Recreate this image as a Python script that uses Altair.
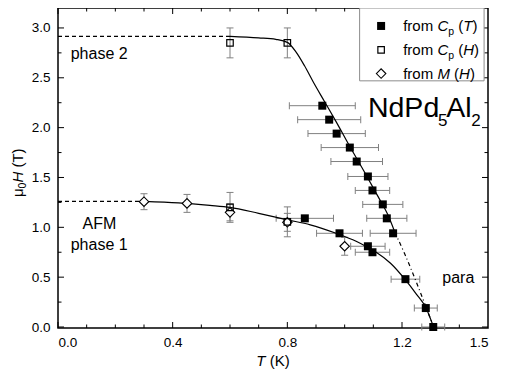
import altair as alt
import pandas as pd

FONT = "Liberation Sans"
GRAY = "#808080"

# ---------------- data ----------------
# from Cp(T): filled squares with horizontal error bars
cpT_T = [0.922, 0.946, 0.972, 1.018, 1.042, 1.081, 1.097, 1.133, 1.147, 1.169,
         0.861, 0.982, 1.081, 1.097, 1.212, 1.283, 1.309]
cpT_H = [2.22, 2.08, 1.94, 1.80, 1.66, 1.51, 1.37, 1.23, 1.09, 0.94,
         1.09, 0.94, 0.81, 0.75, 0.48, 0.19, 0.0]
cpT_dT = [0.115, 0.11, 0.10, 0.10, 0.09, 0.07, 0.06, 0.07, 0.07, 0.08,
          0.10, 0.08, 0.06, 0.06, 0.05, 0.04, 0.04]

# from Cp(H): open squares with vertical error bars
cpH_T = [0.60, 0.80, 0.60, 0.80]
cpH_H = [2.85, 2.85, 1.20, 1.055]
cpH_dH = [0.15, 0.15, 0.15, 0.15]

# from M(H): open diamonds with vertical error bars
M_T = [0.30, 0.45, 0.60, 0.80, 1.00]
M_H = [1.257, 1.24, 1.15, 1.05, 0.81]
M_dH = [0.08, 0.09, 0.085, 0.09, 0.09]

# phase boundaries
b2_T = [0.60, 0.70, 0.76, 0.80, 0.83, 0.86, 0.89, 0.93, 0.97, 1.02, 1.07, 1.12, 1.15, 1.175]
b2_H = [2.915, 2.90, 2.885, 2.855, 2.76, 2.62, 2.46, 2.26, 2.06, 1.80, 1.55, 1.29, 1.13, 0.95]
b2x_T = [1.175, 1.21, 1.25, 1.31]
b2x_H = [0.95, 0.73, 0.45, 0.0]
b2d_T = [0.0, 0.60]
b2d_H = [2.915, 2.915]
b1_T = [0.30, 0.42, 0.53, 0.60, 0.70, 0.80, 0.88, 0.97, 1.04, 1.08, 1.11, 1.16, 1.21, 1.25, 1.283, 1.31]
b1_H = [1.26, 1.245, 1.22, 1.20, 1.14, 1.075, 1.025, 0.94, 0.86, 0.80, 0.75, 0.64, 0.48, 0.33, 0.195, 0.0]
b1d_T = [0.0, 0.30]
b1d_H = [1.26, 1.26]

x_labels = [0.0, 0.4, 0.8, 1.2, 1.5]
x_ticks_major = [0.0, 0.4, 0.8, 1.2]
x_ticks_minor = [0.1, 0.2, 0.3, 0.5, 0.6, 0.7, 0.9, 1.0, 1.1, 1.3, 1.4]
y_ticks_major = [0.0, 0.5, 1.0, 1.5, 2.0, 2.5, 3.0]
y_ticks_minor = [0.25, 0.75, 1.25, 1.75, 2.25, 2.75]

# ---------------- layout ----------------
W, H = 430, 320
xs = alt.Scale(domain=[0, 1.5], nice=False, zero=False)
ys = alt.Scale(domain=[-0.01, 3.2], nice=False, zero=False)
x_axis = alt.Axis(values=x_labels, format=".1f", ticks=False, domain=False, grid=False, title=None,
                  labelFont=FONT, labelFontSize=13.5, labelColor="black", labelPadding=7)
y_axis = alt.Axis(values=y_ticks_major, format=".1f", ticks=False, domain=False, grid=False, title=None,
                  labelFont=FONT, labelFontSize=13.5, labelColor="black", labelPadding=8)


def px(page_x):
    return (page_x - 58.7) / 289.5 * (W / 1.5)


def py(page_y):
    return (page_y - 7.0) * H / 320.7


one = pd.DataFrame({"a": [0]})


def X(f):
    return alt.X(f, type="quantitative", scale=xs, axis=x_axis)


def Y(f):
    return alt.Y(f, type="quantitative", scale=ys, axis=y_axis)


def txt(s, x, y, size=15, italic=False, align="left", baseline="alphabetic", angle=0):
    return alt.Chart(one).mark_text(
        text=s, font=FONT, fontSize=size, fontStyle="italic" if italic else "normal",
        align=align, baseline=baseline, angle=angle, color="black"
    ).encode(x=alt.value(x), y=alt.value(y))


dT = pd.DataFrame({"T": cpT_T, "H": cpT_H, "d": cpT_dT})
dT["lo"] = dT["T"] - dT["d"]
dT["hi"] = dT["T"] + dT["d"]
dTcaps = pd.concat([dT[["lo", "H"]].rename(columns={"lo": "T"}),
                    dT[["hi", "H"]].rename(columns={"hi": "T"})])

dH = pd.DataFrame({"T": cpH_T, "H": cpH_H, "d": cpH_dH})
dM = pd.DataFrame({"T": M_T, "H": M_H, "d": M_dH})
vert = pd.concat([dH, dM])
vert["lo"] = vert["H"] - vert["d"]
vert["hi"] = vert["H"] + vert["d"]
vcaps = pd.concat([vert[["T", "lo"]].rename(columns={"lo": "H"}),
                   vert[["T", "hi"]].rename(columns={"hi": "H"})])

layers = []

# error bars
layers.append(alt.Chart(dT).mark_rule(color=GRAY, strokeWidth=1).encode(x=X("lo"), x2="hi", y=Y("H")))
layers.append(alt.Chart(dTcaps).mark_tick(orient="vertical", size=7, thickness=1, color=GRAY, opacity=1)
              .encode(x=X("T"), y=Y("H")))
layers.append(alt.Chart(vert).mark_rule(color=GRAY, strokeWidth=1).encode(x=X("T"), y=Y("lo"), y2="hi"))
layers.append(alt.Chart(vcaps).mark_tick(orient="horizontal", size=7, thickness=1, color=GRAY, opacity=1)
              .encode(x=X("T"), y=Y("H")))


def line(T, Hh, dash=None, interp="monotone"):
    kw = dict(color="black", strokeWidth=1.2, interpolate=interp)
    if dash:
        kw["strokeDash"] = dash
    return alt.Chart(pd.DataFrame({"T": T, "H": Hh})).mark_line(**kw).encode(
        x=X("T"), y=Y("H"), order="T:Q")


layers += [
    line(b2_T, b2_H),
    line(b2x_T, b2x_H, dash=[4, 3, 1, 3]),
    line(b2d_T, b2d_H, dash=[4, 3], interp="linear"),
    line(b1_T, b1_H),
    line(b1d_T, b1d_H, dash=[4, 3], interp="linear"),
]

# markers
layers.append(alt.Chart(dM).mark_point(shape="diamond", filled=True, fill="white", stroke="black",
                                       strokeWidth=1.1, size=90, opacity=1, fillOpacity=1)
              .encode(x=X("T"), y=Y("H")))
layers.append(alt.Chart(dH).mark_point(shape="square", filled=True, fill="white", stroke="black",
                                       strokeWidth=1.2, size=42, opacity=1, fillOpacity=0)
              .encode(x=X("T"), y=Y("H")))
layers.append(alt.Chart(dT).mark_point(shape="square", filled=True, color="black", size=64, opacity=1)
              .encode(x=X("T"), y=Y("H")))

# inward ticks on all four sides
for vals, ln in [(x_ticks_major, 6), (x_ticks_minor, 3.5)]:
    d = pd.DataFrame({"T": vals})
    layers.append(alt.Chart(d).mark_rule(color="black", strokeWidth=1).encode(
        x=X("T"), y=alt.value(H), y2=alt.value(H - ln)))
    layers.append(alt.Chart(d).mark_rule(color="black", strokeWidth=1).encode(
        x=X("T"), y=alt.value(0), y2=alt.value(ln)))
for vals, ln in [(y_ticks_major, 6), (y_ticks_minor, 3.5)]:
    d = pd.DataFrame({"H": vals})
    layers.append(alt.Chart(d).mark_rule(color="black", strokeWidth=1).encode(
        y=Y("H"), x=alt.value(0), x2=alt.value(ln)))
    layers.append(alt.Chart(d).mark_rule(color="black", strokeWidth=1).encode(
        y=Y("H"), x=alt.value(W), x2=alt.value(W - ln)))

# legend box
bx0, bx1, by0, by1 = px(363.3), px(489), 0, py(80)
layers.append(alt.Chart(one).mark_rect(fill="white", stroke="#8c8c8c", strokeWidth=1).encode(
    x=alt.value(bx0), x2=alt.value(bx1), y=alt.value(by0), y2=alt.value(by1)))

sym_x = px(385)
text_x = px(407.3)
rows = [py(25), py(49), py(72.7)]
layers.append(alt.Chart(one).mark_point(shape="square", filled=True, color="black", size=64, opacity=1)
              .encode(x=alt.value(sym_x), y=alt.value(rows[0])))
layers.append(alt.Chart(one).mark_point(shape="square", filled=True, fill="white", stroke="black",
                                        strokeWidth=1.2, size=42, opacity=1, fillOpacity=0)
              .encode(x=alt.value(sym_x), y=alt.value(rows[1])))
layers.append(alt.Chart(one).mark_point(shape="diamond", filled=True, fill="white", stroke="black",
                                        strokeWidth=1.1, size=90, opacity=1, fillOpacity=1)
              .encode(x=alt.value(sym_x), y=alt.value(rows[2])))

LS = 15
for r, (letter, sub, var) in enumerate([("C", "p", "T"), ("C", "p", "H"), ("M", None, "H")]):
    b = rows[r] + 5.4
    layers.append(txt("from", text_x, b, LS))
    layers.append(txt(letter, text_x + 34.2, b, LS, italic=True))
    cur = text_x + 34.2 + (10.8 if letter == "C" else 12.5)
    if sub:
        layers.append(txt(sub, cur, b + 4, 10.5))
        cur += 5.8
    cur += 4.2
    layers.append(txt("(", cur, b, LS))
    cur += 5.0
    layers.append(txt(var, cur, b, LS, italic=True))
    cur += (9.2 if var == "T" else 10.8)
    layers.append(txt(")", cur, b, LS))

# compound name
nx, nb = px(371.7), py(116)
layers += [
    txt("NdPd", nx, nb, 28.5),
    txt("5", nx + 70, nb + 9, 17),
    txt("Al", nx + 78.3, nb, 28.5),
    txt("2", nx + 103.3, nb + 9, 17),
]

# region labels
layers += [
    txt("phase 2", px(100.3), py(53), 16, align="center", baseline="middle"),
    txt("AFM", px(100.5), py(223), 16, align="center", baseline="middle"),
    txt("phase 1", px(100.3), py(245), 16, align="center", baseline="middle"),
    txt("para", px(463), py(277.3), 16, align="center", baseline="middle"),
]

# axis titles
tx = W / 2 - 16.7
layers += [
    txt("T", tx, 358, 15, italic=True),
    txt("(K)", tx + 13.4, 358, 15),
]
yx = -35.5
layers += [
    txt("\u03bc", yx, 189, 15, angle=270),
    txt("0", yx + 3.5, 180.4, 10.5, angle=270),
    txt("H", yx, 174.6, 15, italic=True, angle=270),
    txt("(T)", yx, 163.8 - 4.2, 15, angle=270),
]

chart = alt.layer(*layers).properties(
    width=W, height=H,
    padding={"left": 50, "top": 0, "right": 9, "bottom": 41},
    autosize=alt.AutoSizeParams(type="none"),
).configure_view(stroke="black", strokeWidth=1.5)

chart.save("out.html", embed_options={"renderer": "svg", "actions": False})
